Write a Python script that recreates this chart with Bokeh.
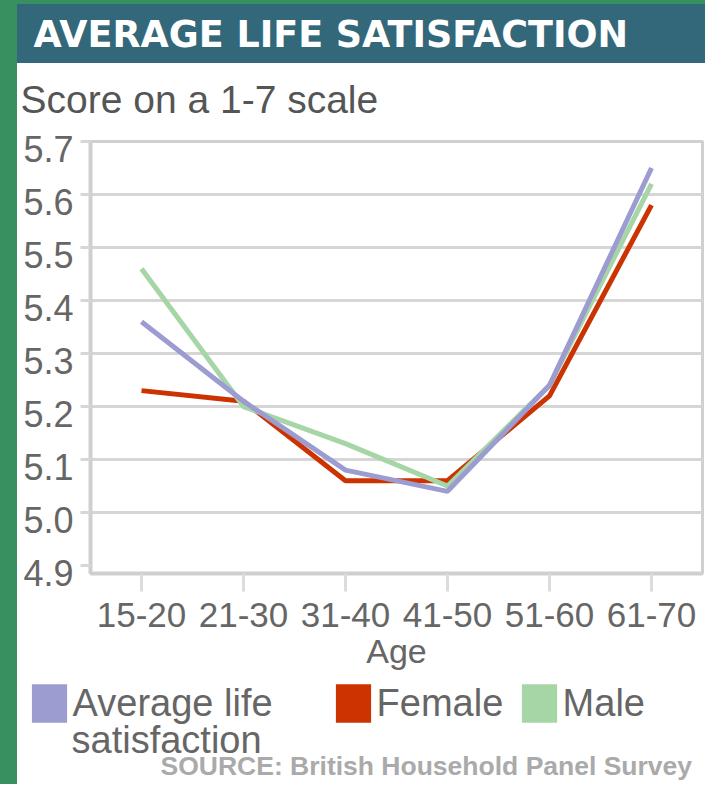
from bokeh.plotting import figure
from bokeh.layouts import column
from bokeh.models import (Label, Legend, LegendItem, FixedTicker, FactorRange,
                          Range1d, PrintfTickFormatter, LinearAxis,
                          CustomJSTickFormatter)
from bokeh.embed import file_html
from bokeh.resources import INLINE
from bokeh.core.properties import value

# ---- data -------------------------------------------------------------
ages = ["15-20", "21-30", "31-40", "41-50", "51-60", "61-70"]
average = [5.36, 5.21, 5.08, 5.04, 5.24, 5.65]
female = [5.23, 5.21, 5.06, 5.06, 5.22, 5.58]
male = [5.46, 5.20, 5.13, 5.05, 5.24, 5.62]
y_ticks = [4.9, 5.0, 5.1, 5.2, 5.3, 5.4, 5.5, 5.6, 5.7]
grid_ticks = [5.0, 5.1, 5.2, 5.3, 5.4, 5.5, 5.6, 5.7]

title_text = "AVERAGE LIFE SATISFACTION"
subtitle_text = "Score on a 1-7 scale"
x_label = "Age"
legend_names = ["Average life", "Female", "Male"]
legend_second_line = "satisfaction"
source_text = "SOURCE: British Household Panel Survey"

c_avg = "#9c9cd0"
c_female = "#cc3300"
c_male = "#a6d5a6"
FONT = "Liberation Sans"
GREEN = "#36905f"
TEAL = "#33677a"
W = 705
TOP_H = 122
MAIN_H = 557
BOT_H = 784 - TOP_H - MAIN_H
DY = -13  # measured text baseline correction for labels


def css_bg(band=None, white_from=0):
    layers = []
    if band:
        y0, y1 = band
        layers.append(f"linear-gradient({TEAL}, {TEAL}) 17px {y0}px / 100% {y1 - y0}px no-repeat")
    layers.append(f"linear-gradient(#ffffff, #ffffff) 17px {white_from}px / 100% 100% no-repeat")
    layers.append(GREEN)
    return {"background": ", ".join(layers)}


def blank_fig(height, y0):
    f = figure(width=W, height=height, x_range=Range1d(0, W),
               y_range=Range1d(y0 + height, y0), output_backend="svg",
               toolbar_location=None, x_axis_type=None, y_axis_type=None,
               min_border=0, min_border_left=0, min_border_right=0,
               min_border_top=0, min_border_bottom=0,
               title_location=None, frame_align=False)
    f.grid.visible = False
    f.outline_line_color = None
    f.background_fill_color = None
    f.border_fill_color = None
    return f


# ---- header -------------------------------------------------------------
top = blank_fig(TOP_H, 0)
top.styles = css_bg(band=(4, 63), white_from=63)
top.add_layout(Label(x=33, y=47 + DY, text=title_text, text_font="DejaVu Sans",
                     text_font_style="bold", text_font_size="36.5px",
                     text_color="white", text_baseline="alphabetic"))
top.add_layout(Label(x=20, y=112 + DY, text=subtitle_text, text_font=FONT,
                     text_font_size="39px", text_color="#555555",
                     text_baseline="alphabetic"))

# ---- main plot ----------------------------------------------------------
p = figure(width=W, height=MAIN_H, x_range=FactorRange(*ages),
           y_range=Range1d(4.885, 5.7), output_backend="svg",
           toolbar_location=None, min_border_left=90, min_border_right=3,
           min_border_top=141 - TOP_H, min_border_bottom=106,
           title_location=None, frame_align=False)
p.background_fill_color = "white"
p.border_fill_color = None
p.styles = css_bg()
p.outline_line_color = "#d0d0d0"
p.outline_line_width = 3

p.xaxis.axis_line_color = "#cfcfcf"
p.xaxis.axis_line_width = 4
p.xaxis.major_tick_line_color = "#dcdcdc"
p.xaxis.major_tick_line_width = 3
p.xaxis.major_tick_out = 18
p.xaxis.major_tick_in = 0
p.xaxis.major_label_text_font = FONT
p.xaxis.major_label_text_font_size = "35px"
p.xaxis.major_label_text_color = "#666666"
p.xaxis.major_label_standoff = 11
p.xaxis.axis_label = x_label
p.xaxis.axis_label_text_font = FONT
p.xaxis.axis_label_text_font_size = "34px"
p.xaxis.axis_label_text_font_style = "normal"
p.xaxis.axis_label_text_color = "#666666"
p.xaxis.axis_label_standoff = 2

# inner y axis: line + ticks aligned with the grid
p.yaxis.ticker = FixedTicker(ticks=y_ticks)
p.yaxis.formatter = CustomJSTickFormatter(code="return ''")
p.yaxis.axis_line_color = "#cfcfcf"
p.yaxis.axis_line_width = 4
p.yaxis.major_tick_line_color = "#d6d6d6"
p.yaxis.major_tick_line_width = 3
p.yaxis.major_tick_out = 10
p.yaxis.major_tick_in = 0
p.yaxis.minor_tick_line_color = None
p.yaxis.major_label_standoff = 0

# outer y axis: the tick labels, set slightly below the grid lines as in the original
d = 0.0149
p.extra_y_ranges = {"labels": Range1d(4.885 + d, 5.7 + d)}
lab_axis = LinearAxis(y_range_name="labels", ticker=FixedTicker(ticks=y_ticks),
                      formatter=PrintfTickFormatter(format="%.1f"),
                      axis_line_color=None, major_tick_line_color=None,
                      minor_tick_line_color=None, major_label_standoff=1,
                      major_label_text_font=FONT,
                      major_label_text_font_size="36px",
                      major_label_text_color="#666666")
p.add_layout(lab_axis, "left")

p.xgrid.grid_line_color = None
p.ygrid.ticker = FixedTicker(ticks=grid_ticks)
p.ygrid.grid_line_color = "#d6d6d6"
p.ygrid.grid_line_width = 3

p.line(ages, female, line_color=c_female, line_width=5)
p.line(ages, male, line_color=c_male, line_width=5)
p.line(ages, average, line_color=c_avg, line_width=5)

# ---- legend + source -----------------------------------------------------
bot = blank_fig(BOT_H, TOP_H + MAIN_H)
bot.styles = css_bg()
idx = list(range(len(ages)))
# zero-size swatch renderers (invisible), used only for the legend squares
sw = [bot.rect(x=idx, y=vals, width=0, height=0, fill_color=c, line_color=None)
      for vals, c in zip([average, female, male], [c_avg, c_female, c_male])]
legend_x = [26.6, 330.6, 516.6]
for name, r, lx in zip(legend_names, sw, legend_x):
    lg = Legend(items=[LegendItem(label=value(name), renderers=[r])],
                location=(lx, 784 - 727), orientation="horizontal",
                padding=0, margin=0, border_line_color=None,
                background_fill_alpha=0, glyph_width=44, glyph_height=48,
                label_standoff=2, label_text_font=FONT,
                label_text_font_size="38px", label_text_color="#666666")
    bot.add_layout(lg, "center")

bot.add_layout(Label(x=71, y=752 + DY, text=legend_second_line, text_font=FONT,
                     text_font_size="38px", text_color="#666666",
                     text_baseline="alphabetic"))
bot.add_layout(Label(x=160, y=778 + DY, text=source_text, text_font=FONT,
                     text_font_style="bold", text_font_size="26.5px",
                     text_color="#aaaaaa", text_baseline="alphabetic"))

layout = column(top, p, bot, spacing=0)
open("out.html", "w").write(file_html(layout, INLINE))
